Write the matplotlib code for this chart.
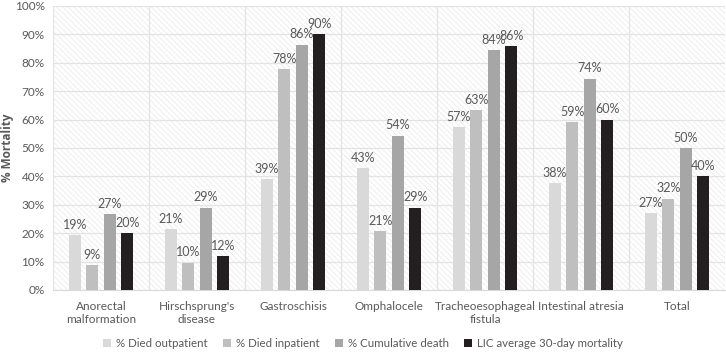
import matplotlib
matplotlib.use("Agg")
import matplotlib.pyplot as plt
import numpy as np
from matplotlib.patches import Rectangle
from matplotlib.ticker import PercentFormatter

categories = ["Anorectal\nmalformation", "Hirschsprung's\ndisease", "Gastroschisis",
              "Omphalocele", "Tracheoesophageal\nfistula", "Intestinal atresia", "Total"]
series_names = ["% Died outpatient", "% Died inpatient", "% Cumulative death",
                "LIC average 30-day mortality"]
died_outpatient = [19.4, 21.4, 39.0, 42.8, 57.3, 37.6, 27.0]
died_inpatient = [8.8, 9.6, 77.8, 20.6, 63.4, 59.2, 32.2]
cumulative_death = [26.6, 29.0, 86.4, 54.4, 84.4, 74.4, 50.0]
lic_average = [20.0, 12.0, 90.0, 29.0, 86.0, 60.0, 40.0]
series = [died_outpatient, died_inpatient, cumulative_death, lic_average]
colors = ["#d9d9d9", "#bfbfbf", "#a6a6a6", "#231f20"]

plt.rcParams['font.family'] = ['Lato', 'DejaVu Sans']
plt.rcParams['hatch.linewidth'] = 0.5
txt = "#595959"

fig = plt.figure(figsize=(7.26, 3.52), dpi=100)
ax = fig.add_axes([53/726, 1-290/352, 672/726, 284/352])

x = np.arange(len(categories))
w = 0.125
step = 0.182
for i, (vals, c) in enumerate(zip(series, colors)):
    pos = x + (i - 1.5) * step
    ax.bar(pos, vals, width=w, color=c, zorder=3, label=series_names[i])
    for p, v in zip(pos, vals):
        ax.text(p, v + 1.5, f"{v:.0f}%", ha="center", va="bottom", fontsize=9,
                color=txt, zorder=4)

ax.set_xlim(-0.5, len(categories) - 0.5)
ax.set_ylim(0, 100)
ax.set_yticks(np.arange(0, 101, 10))
ax.yaxis.set_major_formatter(PercentFormatter(decimals=0))
ax.set_xticks(x)
ax.set_xticklabels(categories)
ax.set_xticks(np.arange(-0.5, len(categories), 1), minor=True)
ax.tick_params(axis="both", which="both", length=0, labelsize=8.5, colors=txt)
ax.tick_params(axis="x", pad=8)
ax.tick_params(axis="y", pad=6)
ax.grid(axis="y", which="major", color="#e3e3e3", lw=0.9, zorder=1)
ax.grid(axis="x", which="minor", color="#e3e3e3", lw=0.9, zorder=1)
ax.grid(axis="x", which="major", visible=False)
for s in ["top", "right", "left"]:
    ax.spines[s].set_visible(False)
ax.spines["bottom"].set_color("#d9d9d9")

bg = Rectangle((0, 0), 1, 1, transform=ax.transAxes, facecolor="white",
               edgecolor="#e8e8e8", hatch="\\\\\\\\\\\\", lw=0, zorder=0)
ax.add_patch(bg)

ax.set_ylabel("% Mortality", fontsize=8.5, color=txt, fontweight="bold",
              family=["Open Sans", "DejaVu Sans"])
ax.yaxis.set_label_coords(-0.058, 0.5)

fig.legend(loc="lower center", bbox_to_anchor=(0.5, -0.02), ncol=4, frameon=False,
           fontsize=8.3, labelcolor=txt, handlelength=0.7, handleheight=0.7,
           columnspacing=1.35, handletextpad=0.4)

fig.savefig("out.png", dpi=100)
